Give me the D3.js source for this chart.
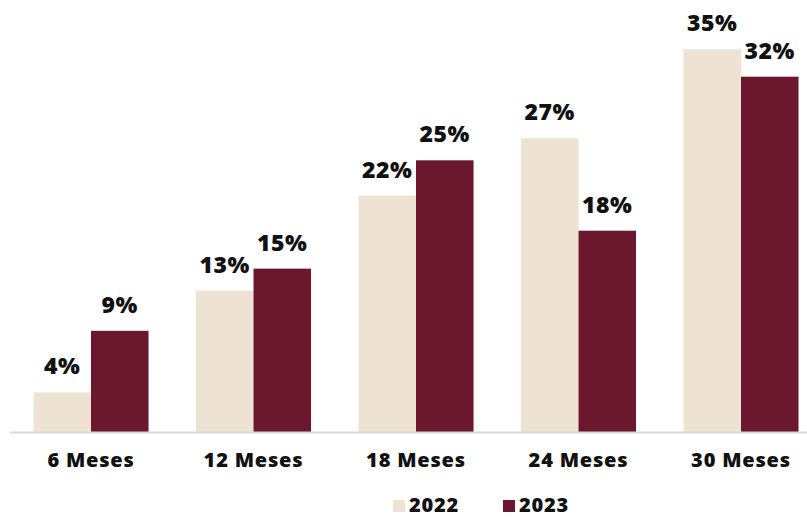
<!DOCTYPE html>
<html>
<head>
<meta charset="utf-8">
<script src="https://cdn.jsdelivr.net/npm/d3@7"></script>
<style>
  html, body { margin: 0; padding: 0; background: #ffffff; }
  svg { display: block; }
  text { font-family: "Open Sans", "Noto Sans", sans-serif; font-weight: 800; fill: #111111; }
</style>
</head>
<body>
<svg id="chart" width="807" height="517"></svg>
<script>
const categories = ["6 Meses", "12 Meses", "18 Meses", "24 Meses", "30 Meses"];
const seriesNames = ["2022", "2023"];
const values2022 = [3.6, 12.85, 21.5, 26.7, 34.8];
const values2023 = [9.2, 14.85, 24.7, 18.3, 32.3];
const seriesColors = ["#EEE3D2", "#6B172D"];

const svg = d3.select("#chart");
const W = 807, H = 517;
const baseY = 432;

const x0 = d3.scaleBand().domain(categories).range([9.75, 822.25]).paddingInner(0.292).paddingOuter(0.146);
const x1 = d3.scaleBand().domain(seriesNames).range([0, x0.bandwidth()]).padding(0);
const y = d3.scaleLinear().domain([0, 40]).range([baseY, baseY - 440]);
const color = d3.scaleOrdinal().domain(seriesNames).range(seriesColors);
const fmt = v => d3.format(".0f")(v) + "%";

const data = categories.map((c, i) => ({cat: c, vals: [
  {s: "2022", v: values2022[i]},
  {s: "2023", v: values2023[i]}
]}));

const groups = svg.append("g").selectAll("g").data(data).join("g")
  .attr("transform", d => `translate(${x0(d.cat)},0)`);

groups.selectAll("rect").data(d => d.vals).join("rect")
  .attr("x", d => x1(d.s))
  .attr("y", d => y(d.v))
  .attr("width", x1.bandwidth())
  .attr("height", d => y(0) - y(d.v))
  .attr("fill", d => color(d.s));

groups.selectAll("text.lbl").data(d => d.vals).join("text")
  .attr("class", "lbl")
  .attr("x", d => x1(d.s) + x1.bandwidth() / 2)
  .attr("y", d => y(d.v) - 18)
  .attr("text-anchor", "middle")
  .style("font-size", "23px")
  .style("letter-spacing", "0.6px")
  .text(d => fmt(d.v));

// baseline axis
const xAxis = d3.axisBottom(x0).tickSize(0).tickPadding(14);
const ax = svg.append("g").attr("transform", `translate(0,${baseY})`).call(xAxis);
ax.select(".domain").remove();
ax.selectAll("text").style("font-size", "20px").style("font-family", "'Open Sans', sans-serif")
  .style("font-weight", "800").style("letter-spacing", "0.8px").attr("fill", "#111")
  .attr("dy", 0).attr("y", 35);
svg.append("line").attr("x1", 10).attr("x2", W).attr("y1", baseY + 0.5).attr("y2", baseY + 0.5)
  .attr("stroke", "#d9d9d9").attr("stroke-width", 2);

// legend
const legendItems = [{s: "2022", x: 393}, {s: "2023", x: 503}];
const lg = svg.append("g");
legendItems.forEach(it => {
  lg.append("rect").attr("x", it.x).attr("y", 500).attr("width", 12).attr("height", 12).attr("fill", color(it.s));
  lg.append("text").attr("x", it.x + 16).attr("y", 512).style("font-size", "20px")
    .style("letter-spacing", "0.8px").text(it.s);
});
</script>
</body>
</html>
